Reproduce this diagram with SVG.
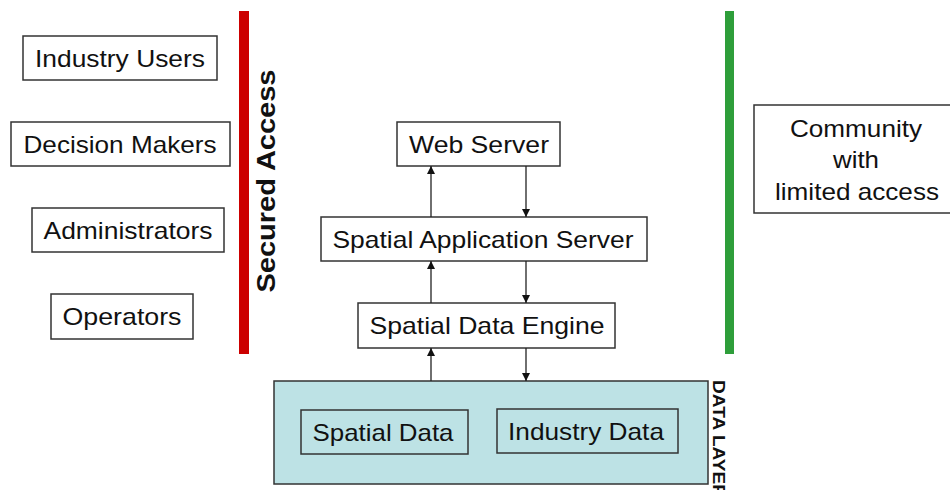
<svg xmlns="http://www.w3.org/2000/svg" width="950" height="490" viewBox="0 0 950 490">
<defs>
<style>
.box{fill:#fff;stroke:#333;stroke-width:1.5}
.t{font-family:"Liberation Sans",Arial,sans-serif;font-size:24px;fill:#111;text-anchor:middle}
.c{stroke:#222;stroke-width:1.3;fill:none;marker-end:url(#ah)}
</style>
<marker id="ah" viewBox="0 0 10 10" refX="10" refY="5" markerWidth="9" markerHeight="8" markerUnits="userSpaceOnUse" orient="auto">
<path d="M0,0 L10,5 L0,10 z" fill="#111"/>
</marker>
</defs>
<rect width="950" height="490" fill="#fff"/>
<g id="secured-bar">
<rect x="239" y="11" width="10" height="343" fill="#cc0000"/>
<text x="275" y="181" class="t" style="font-weight:bold;font-size:25px" transform="rotate(-90 275 181)" textLength="223" lengthAdjust="spacingAndGlyphs">Secured Access</text>
</g>
<g id="community-bar">
<rect x="725" y="11" width="9" height="343" fill="#2e9e3a"/>
</g>
<g id="industry-users"><rect class="box" x="23" y="36" width="194" height="44"/><text class="t" x="120" y="67" textLength="170" lengthAdjust="spacingAndGlyphs">Industry Users</text></g>
<g id="decision-makers"><rect class="box" x="11" y="122" width="219" height="44"/><text class="t" x="120" y="153" textLength="193" lengthAdjust="spacingAndGlyphs">Decision Makers</text></g>
<g id="administrators"><rect class="box" x="32" y="208" width="192" height="44"/><text class="t" x="128" y="239" textLength="169" lengthAdjust="spacingAndGlyphs">Administrators</text></g>
<g id="operators"><rect class="box" x="51" y="294" width="142" height="45"/><text class="t" x="122" y="325" textLength="119" lengthAdjust="spacingAndGlyphs">Operators</text></g>
<g id="web-server"><rect class="box" x="397" y="122" width="163" height="44"/><text class="t" x="479" y="153" textLength="140" lengthAdjust="spacingAndGlyphs">Web Server</text></g>
<g id="spatial-application-server"><rect class="box" x="321" y="217" width="326" height="44"/><text class="t" x="483" y="248" textLength="301" lengthAdjust="spacingAndGlyphs">Spatial Application Server</text></g>
<g id="spatial-data-engine"><rect class="box" x="358" y="303" width="257" height="45"/><text class="t" x="487" y="334" textLength="235" lengthAdjust="spacingAndGlyphs">Spatial Data Engine</text></g>
<g id="data-layer">
<rect x="274" y="381" width="434" height="103" fill="#bde2e5" stroke="#333" stroke-width="1.5"/>
<text x="713" y="380" style="font-family:'Liberation Sans',Arial,sans-serif;font-weight:bold;font-size:17px;fill:#111" transform="rotate(90 713 380)" textLength="118" lengthAdjust="spacingAndGlyphs">DATA LAYER</text>
</g>
<g id="spatial-data"><rect x="301" y="410" width="167" height="44" fill="#bde2e5" stroke="#333" stroke-width="1.5"/><text class="t" x="383" y="441" textLength="141" lengthAdjust="spacingAndGlyphs">Spatial Data</text></g>
<g id="industry-data"><rect x="497" y="409" width="181" height="44" fill="#bde2e5" stroke="#333" stroke-width="1.5"/><text class="t" x="586" y="440" textLength="156" lengthAdjust="spacingAndGlyphs">Industry Data</text></g>
<g id="community"><rect class="box" x="754" y="105" width="200" height="108"/>
<text class="t" x="856" y="137" textLength="132" lengthAdjust="spacingAndGlyphs">Community</text>
<text class="t" x="856" y="168" textLength="46" lengthAdjust="spacingAndGlyphs">with</text>
<text class="t" x="857" y="200" textLength="164" lengthAdjust="spacingAndGlyphs">limited access</text>
</g>
<g id="connectors">
<line class="c" x1="431" y1="217" x2="431" y2="166"/>
<line class="c" x1="526" y1="166" x2="526" y2="217"/>
<line class="c" x1="431" y1="303" x2="431" y2="261"/>
<line class="c" x1="526" y1="261" x2="526" y2="303"/>
<line class="c" x1="431" y1="381" x2="431" y2="348"/>
<line class="c" x1="526" y1="348" x2="526" y2="381"/>
</g>
</svg>
